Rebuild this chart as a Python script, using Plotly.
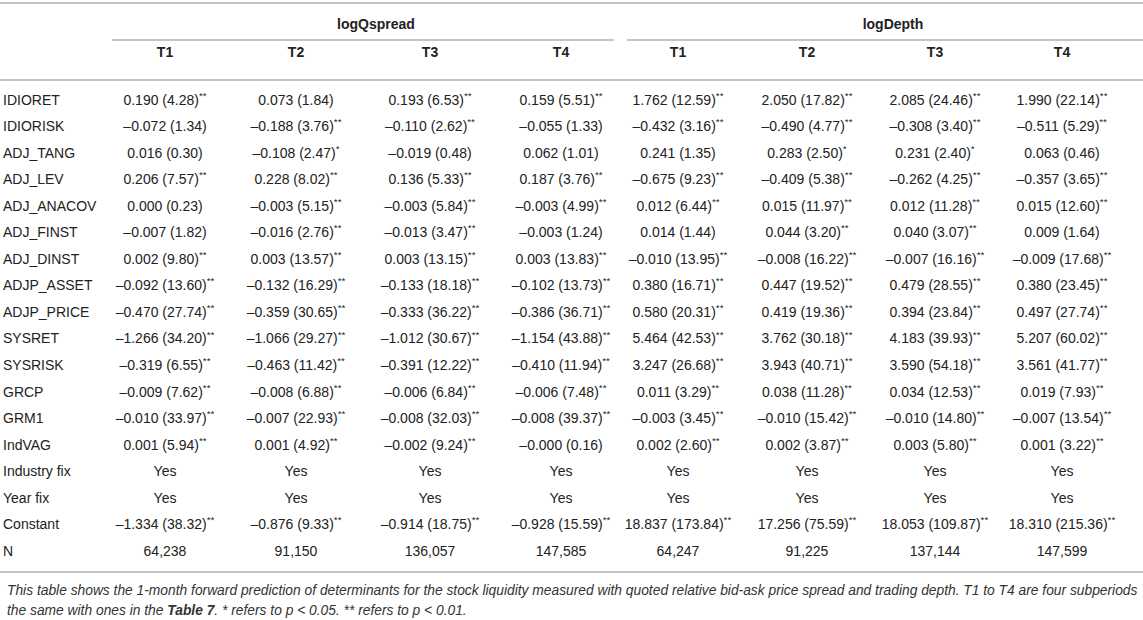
"""Regression table: 1-month forward prediction of liquidity determinants."""

import plotly.graph_objects as go

# ---- table content -------------------------------------------------------
groups = ["logQspread", "logDepth"]
periods = ["T1", "T2", "T3", "T4"]

row_labels = [
    "IDIORET", "IDIORISK", "ADJ_TANG", "ADJ_LEV", "ADJ_ANACOV", "ADJ_FINST",
    "ADJ_DINST", "ADJP_ASSET", "ADJP_PRICE", "SYSRET", "SYSRISK", "GRCP",
    "GRM1", "IndVAG", "Industry fix", "Year fix", "Constant", "N",
]

qs_t1 = ["0.190 (4.28)**", "-0.072 (1.34)", "0.016 (0.30)", "0.206 (7.57)**",
         "0.000 (0.23)", "-0.007 (1.82)", "0.002 (9.80)**", "-0.092 (13.60)**",
         "-0.470 (27.74)**", "-1.266 (34.20)**", "-0.319 (6.55)**",
         "-0.009 (7.62)**", "-0.010 (33.97)**", "0.001 (5.94)**", "Yes", "Yes",
         "-1.334 (38.32)**", "64,238"]
qs_t2 = ["0.073 (1.84)", "-0.188 (3.76)**", "-0.108 (2.47)*", "0.228 (8.02)**",
         "-0.003 (5.15)**", "-0.016 (2.76)**", "0.003 (13.57)**",
         "-0.132 (16.29)**", "-0.359 (30.65)**", "-1.066 (29.27)**",
         "-0.463 (11.42)**", "-0.008 (6.88)**", "-0.007 (22.93)**",
         "0.001 (4.92)**", "Yes", "Yes", "-0.876 (9.33)**", "91,150"]
qs_t3 = ["0.193 (6.53)**", "-0.110 (2.62)**", "-0.019 (0.48)", "0.136 (5.33)**",
         "-0.003 (5.84)**", "-0.013 (3.47)**", "0.003 (13.15)**",
         "-0.133 (18.18)**", "-0.333 (36.22)**", "-1.012 (30.67)**",
         "-0.391 (12.22)**", "-0.006 (6.84)**", "-0.008 (32.03)**",
         "-0.002 (9.24)**", "Yes", "Yes", "-0.914 (18.75)**", "136,057"]
qs_t4 = ["0.159 (5.51)**", "-0.055 (1.33)", "0.062 (1.01)", "0.187 (3.76)**",
         "-0.003 (4.99)**", "-0.003 (1.24)", "0.003 (13.83)**",
         "-0.102 (13.73)**", "-0.386 (36.71)**", "-1.154 (43.88)**",
         "-0.410 (11.94)**", "-0.006 (7.48)**", "-0.008 (39.37)**",
         "-0.000 (0.16)", "Yes", "Yes", "-0.928 (15.59)**", "147,585"]

dp_t1 = ["1.762 (12.59)**", "-0.432 (3.16)**", "0.241 (1.35)", "-0.675 (9.23)**",
         "0.012 (6.44)**", "0.014 (1.44)", "-0.010 (13.95)**", "0.380 (16.71)**",
         "0.580 (20.31)**", "5.464 (42.53)**", "3.247 (26.68)**",
         "0.011 (3.29)**", "-0.003 (3.45)**", "0.002 (2.60)**", "Yes", "Yes",
         "18.837 (173.84)**", "64,247"]
dp_t2 = ["2.050 (17.82)**", "-0.490 (4.77)**", "0.283 (2.50)*", "-0.409 (5.38)**",
         "0.015 (11.97)**", "0.044 (3.20)**", "-0.008 (16.22)**",
         "0.447 (19.52)**", "0.419 (19.36)**", "3.762 (30.18)**",
         "3.943 (40.71)**", "0.038 (11.28)**", "-0.010 (15.42)**",
         "0.002 (3.87)**", "Yes", "Yes", "17.256 (75.59)**", "91,225"]
dp_t3 = ["2.085 (24.46)**", "-0.308 (3.40)**", "0.231 (2.40)*", "-0.262 (4.25)**",
         "0.012 (11.28)**", "0.040 (3.07)**", "-0.007 (16.16)**",
         "0.479 (28.55)**", "0.394 (23.84)**", "4.183 (39.93)**",
         "3.590 (54.18)**", "0.034 (12.53)**", "-0.010 (14.80)**",
         "0.003 (5.80)**", "Yes", "Yes", "18.053 (109.87)**", "137,144"]
dp_t4 = ["1.990 (22.14)**", "-0.511 (5.29)**", "0.063 (0.46)", "-0.357 (3.65)**",
         "0.015 (12.60)**", "0.009 (1.64)", "-0.009 (17.68)**", "0.380 (23.45)**",
         "0.497 (27.74)**", "5.207 (60.02)**", "3.561 (41.77)**",
         "0.019 (7.93)**", "-0.007 (13.54)**", "0.001 (3.22)**", "Yes", "Yes",
         "18.310 (215.36)**", "147,599"]

columns = [qs_t1, qs_t2, qs_t3, qs_t4, dp_t1, dp_t2, dp_t3, dp_t4]

caption_lines = [
    "This table shows the 1-month forward prediction of determinants for the stock "
    "liquidity measured with quoted relative bid-ask price spread and trading depth. "
    "T1 to T4 are four subperiods",
    "the same with ones in the <b>Table 7</b>. * refers to <i>p</i> &lt; 0.05. "
    "** refers to <i>p</i> &lt; 0.01.",
]

# ---- layout constants (page pixels) --------------------------------------
W, H = 1143, 620
FONT = "Liberation Sans, Arial, Helvetica, sans-serif"
TEXT = "#222222"
RULE = "#b0b0b0"
SIZE = 14

col_x = [165, 296, 430, 561, 678, 807, 935, 1062]
label_x = 3
row0_y, row_step = 101, 26.55
row_y = [row0_y + i * row_step for i in range(len(row_labels))]
group_x = [376, 893]
group_y, period_y = 25, 53
group_spans = [(112, 614), (627, W)]


def fmt(cell):
    """Typeset a cell: en-dash minus, superscript significance stars."""
    stars = len(cell) - len(cell.rstrip("*"))
    body = cell.rstrip("*")
    if body.startswith("-"):
        body = "\u2013" + body[1:]
    if stars:
        body += "<sup>" + "*" * stars + "</sup>"
    return body


fig = go.Figure()

# row labels
fig.add_trace(go.Scatter(
    x=[label_x] * len(row_labels), y=row_y, text=row_labels,
    mode="text", textposition="middle right", cliponaxis=False,
    textfont=dict(family=FONT, size=SIZE, color=TEXT),
))

# body cells
for cx, col in zip(col_x, columns):
    fig.add_trace(go.Scatter(
        x=[cx] * len(col), y=row_y, text=[fmt(c) for c in col],
        mode="text", textposition="middle center", cliponaxis=False,
        textfont=dict(family=FONT, size=SIZE, color=TEXT),
    ))

# header: group names and periods
fig.add_trace(go.Scatter(
    x=group_x, y=[group_y] * len(groups),
    text=[f"<b>{g}</b>" for g in groups],
    mode="text", textposition="middle center", cliponaxis=False,
    textfont=dict(family=FONT, size=SIZE, color=TEXT),
))
fig.add_trace(go.Scatter(
    x=col_x, y=[period_y] * len(col_x),
    text=[f"<b>{p}</b>" for p in periods * len(groups)],
    mode="text", textposition="middle center", cliponaxis=False,
    textfont=dict(family=FONT, size=SIZE, color=TEXT),
))

# horizontal rules
rules = [(0, W, 3), (0, W, 80), (0, W, 572)]
rules += [(a, b, 40) for a, b in group_spans]
for x0, x1, y in rules:
    fig.add_shape(type="line", x0=x0, x1=x1, y0=y, y1=y, xref="x", yref="y",
                  line=dict(color=RULE, width=1.6))

# caption
for i, line in enumerate(caption_lines):
    fig.add_annotation(
        x=5, y=590 + i * 20, xref="x", yref="y", text=f"<i>{line}</i>",
        showarrow=False, xanchor="left", yanchor="middle",
        font=dict(family=FONT, size=13.8, color="#333333"),
    )

fig.update_layout(
    width=W, height=H,
    margin=dict(l=0, r=0, t=0, b=0),
    paper_bgcolor="white", plot_bgcolor="white",
    showlegend=False, hovermode=False,
    xaxis=dict(range=[0, W], visible=False, fixedrange=True),
    yaxis=dict(range=[H, 0], visible=False, fixedrange=True),
)

# the page body has a default 8px margin; drop it so the table sits at 0,0
fig.write_html("out.html", config={"displayModeBar": False},
               post_script="document.body.style.margin = '0';")
